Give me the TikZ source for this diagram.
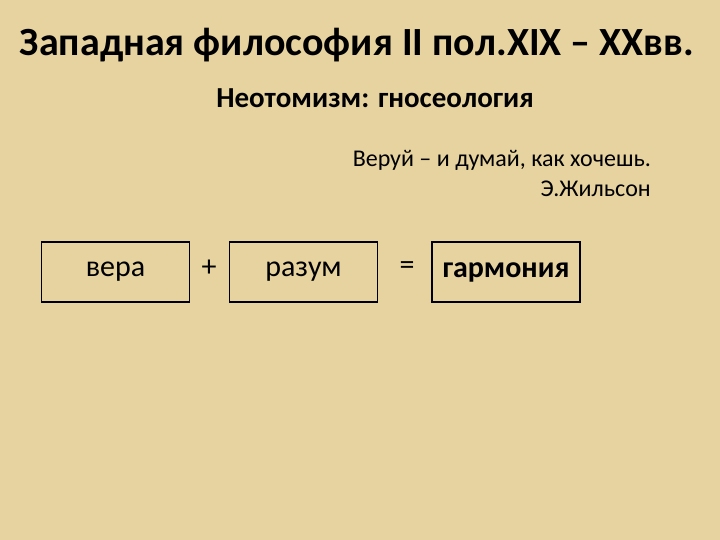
\documentclass[tikz,border=0pt]{standalone}
\usepackage{fontspec}
\setmainfont{Carlito}
\begin{document}
\begin{tikzpicture}[x=1pt,y=-1pt,
  box/.style={draw=black,line width=1.5pt,minimum width=148pt,minimum height=60pt,inner sep=0pt,font=\fontsize{30}{34}\selectfont},
  txt/.style={inner sep=0pt}]
\fill[color={rgb,255:red,230;green,211;blue,160}] (0,0) rectangle (720,540);
\useasboundingbox (0,0) rectangle (720,540);
\node[txt,font=\bfseries\fontsize{40}{44}\selectfont] (title) at (357,45) {Западная философия II пол.XIX – XXвв.};
\node[txt,font=\bfseries\fontsize{29}{33}\selectfont] (sub) at (375,98) {Неотомизм: гносеология};
\node[txt,anchor=east,font=\fontsize{24}{28}\selectfont] (q1) at (651,160) {Веруй – и думай, как хочешь.};
\node[txt,anchor=east,font=\fontsize{24}{28}\selectfont] (q2) at (651,189) {Э.Жильсон};
\node[box] (vera) at (115.5,272) {вера};
\node[box] (razum) at (303.5,272) {разум};
\node[box,font=\bfseries\fontsize{30}{34}\selectfont] (garm) at (506,272) {гармония};
\node[txt,font=\fontsize{30}{34}\selectfont] (plus) at (209,268) {+};
\node[txt,font=\fontsize{30}{34}\selectfont] (eq) at (407,268) {=};
\end{tikzpicture}
\end{document}
